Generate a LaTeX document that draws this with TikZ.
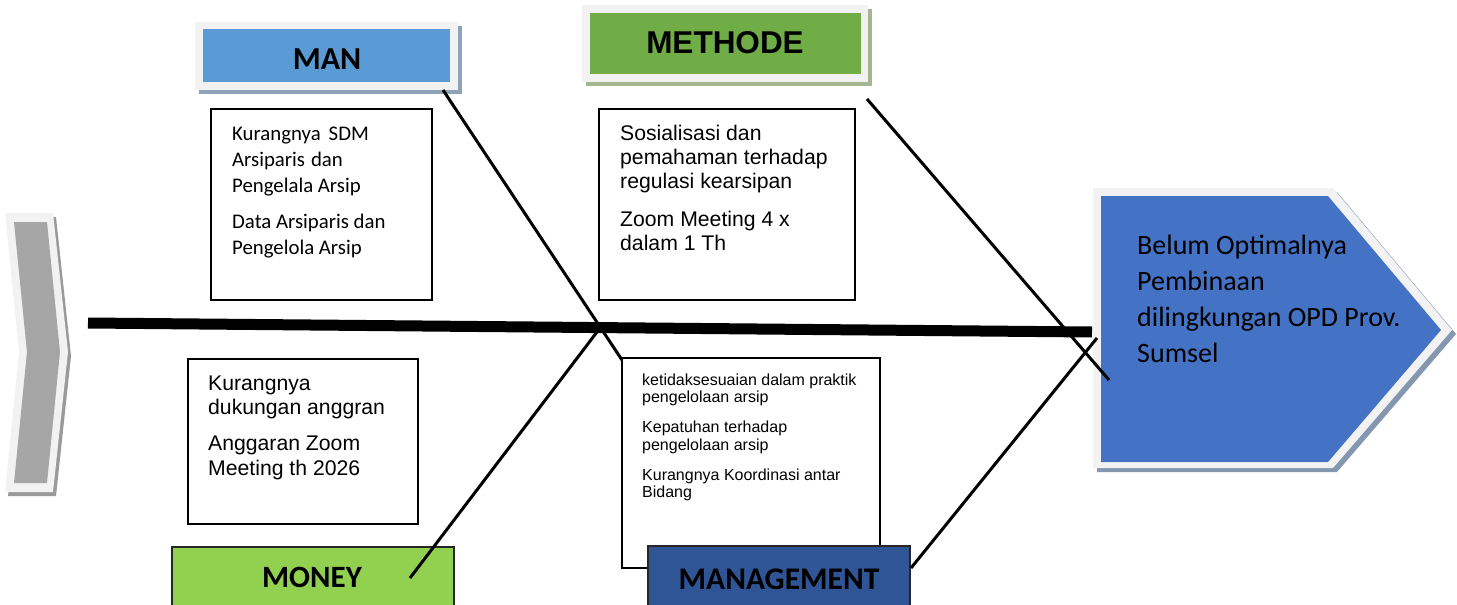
\documentclass[tikz,border=0pt]{standalone}
\usepackage{fontspec}
\setmainfont{Liberation Sans}
\newfontfamily\carl{Carlito}
\newfontfamily\ari{Liberation Sans}
\newcommand\fl{\rule{0pt}{1em}}
\definecolor{frame}{HTML}{F2F2F2}
\definecolor{chevgray}{HTML}{A6A6A6}
\definecolor{chevshadow}{HTML}{9A9A9A}
\definecolor{headblue}{HTML}{4472C4}
\definecolor{headshadow}{HTML}{8497B0}
\definecolor{manblue}{HTML}{5B9BD5}
\definecolor{manshadow}{HTML}{8EA2B8}
\definecolor{metgreen}{HTML}{70AD47}
\definecolor{metshadow}{HTML}{A5B592}
\definecolor{moneygreen}{HTML}{92D050}
\definecolor{mgmtblue}{HTML}{2F5597}
\begin{document}
\begin{tikzpicture}[x=1pt,y=-1pt,
  txtbox/.style={draw=black,line width=1.6pt},
  bone/.style={draw=black,line width=3pt},
  spine/.style={draw=black,line width=11pt},
  body/.style={inner sep=0pt,anchor=north west,align=left,text=black},
  lbl/.style={inner sep=0pt,text=black},
  catbox/.style={draw=black!85,line width=1.3pt},
]
\clip (0,0) rectangle (1457,605);
\fill[white] (0,0) rectangle (1457,605);

% left chevron
\fill[chevshadow,shift={(3,4)}] (5,213) -- (53,213) -- (68,352) -- (53,492) -- (5,492) -- (19,352) -- cycle;
\fill[frame] (5,213) -- (53,213) -- (68,352) -- (53,492) -- (5,492) -- (19,352) -- cycle;
\fill[chevgray] (14,222) -- (47,222) -- (60,352) -- (47,483) -- (14,483) -- (27,352) -- cycle;

% head
\fill[headshadow,shift={(4,4)}] (1093,188) -- (1333,188) -- (1452,330) -- (1333,468) -- (1093,468) -- cycle;
\fill[frame] (1093,188) -- (1333,188) -- (1452,330) -- (1333,468) -- (1093,468) -- cycle;
\fill[headblue] (1101,196) -- (1328,196) -- (1441,330) -- (1328,462) -- (1101,462) -- cycle;
\node[body,font=\carl\fontsize{28}{36}\selectfont] (headtxt) at (1137,226)
  {\fl Belum Optimalnya\\Pembinaan\\dilingkungan OPD Prov.\\Sumsel};

% spine
\coordinate (tail) at (88,323);
\coordinate (headjoin) at (1092,332);
\draw[spine] (tail) -- (headjoin);

% MAN
\fill[manshadow] (199,26) rectangle (462,94);
\fill[frame] (195,22) rectangle (458,90);
\fill[manblue] (203,29) rectangle (450,82);
\node[lbl,font=\carl\bfseries\fontsize{32}{32}\selectfont] (man) at (327,59) {MAN};
\draw[txtbox] (211,109) rectangle (432,300);
\node[body,font=\carl\fontsize{20.8}{26}\selectfont] (mantxt) at (232,119.2)
  {\fl Kurangnya\hspace{8pt}SDM\\Arsiparis\hspace{6pt}dan\\Pengelala Arsip\\[10pt]Data Arsiparis dan\\Pengelola Arsip};

% METHODE
\fill[metshadow] (586,9) rectangle (872,86);
\fill[frame] (582,5) rectangle (868,82);
\fill[metgreen] (590,13) rectangle (861,74);
\node[lbl,font=\ari\bfseries\fontsize{31.5}{31.5}\selectfont] (methode) at (725,42.5) {METHODE};
\draw[txtbox] (599,109) rectangle (855,300);
\node[body,font=\ari\fontsize{21.2}{24}\selectfont] (mettxt) at (620,118.8)
  {\fl Sosialisasi dan\\pemahaman terhadap\\regulasi kearsipan\\[14pt]Zoom Meeting 4 x\\dalam 1 Th};

% MONEY
\draw[txtbox] (188,359) rectangle (418,524);
\node[body,font=\ari\fontsize{21.2}{24.5}\selectfont] (montxt) at (208,368.8)
  {\fl Kurangnya\\dukungan anggran\\[11.5pt]Anggaran Zoom\\Meeting th 2026};
\draw[catbox,fill=moneygreen] (172,547) rectangle (454,620);
\node[lbl,font=\carl\bfseries\fontsize{31}{31}\selectfont] (money) at (312,577.5) {MONEY};

% MANAGEMENT
\draw[txtbox] (622,358) rectangle (880,568);
\node[body,font=\ari\fontsize{16}{17.5}\selectfont] (mgmttxt) at (642,369)
  {\fl ketidaksesuaian dalam praktik\\pengelolaan arsip\\[12.5pt]Kepatuhan terhadap\\pengelolaan arsip\\[12.5pt]Kurangnya Koordinasi antar\\Bidang};
\draw[catbox,fill=mgmtblue] (648,546) rectangle (910,620);
\node[lbl,font=\carl\bfseries\fontsize{31.5}{31.5}\selectfont] (mgmt) at (779,579) {MANAGEMENT};

% bones
\coordinate (manend) at (443,90);
\coordinate (mancross) at (622,360);
\coordinate (monend) at (410,578);
\coordinate (moncross) at (600,328);
\coordinate (metend) at (867,99);
\coordinate (metcross) at (1109,380);
\coordinate (mgmtend) at (911,568);
\coordinate (mgmtcross) at (1097,338);
\draw[bone] (manend) -- (mancross);
\draw[bone] (monend) -- (moncross);
\draw[bone] (metend) -- (metcross);
\draw[bone] (mgmtend) -- (mgmtcross);
\end{tikzpicture}
\end{document}
